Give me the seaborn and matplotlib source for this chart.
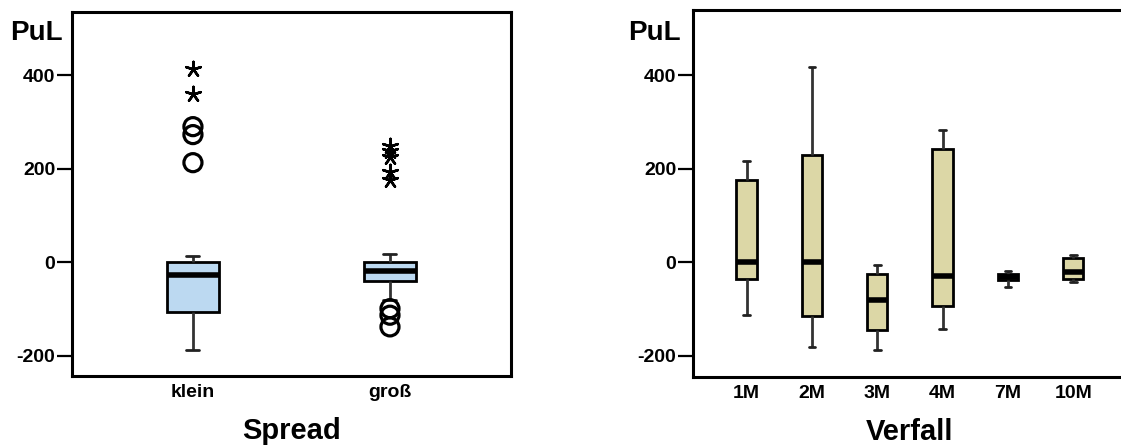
import numpy as np
import pandas as pd
import matplotlib
matplotlib.use("Agg")
import matplotlib.pyplot as plt
import seaborn as sns

# ---------------- data ----------------
spread_cats = ["klein", "groß"]
spread_whislo = [-187, -80]
spread_q1 = [-107, -40]
spread_med = [-27, -18]
spread_q3 = [0, 1]
spread_whishi = [13, 18]
spread_circle_cat = ["klein", "klein", "klein", "groß", "groß", "groß"]
spread_circle_val = [213, 273, 290, -99, -113, -138]
spread_star_cat = ["klein", "klein", "groß", "groß", "groß", "groß", "groß"]
spread_star_val = [360, 414, 248, 238, 226, 194, 177]

verfall_cats = ["1M", "2M", "3M", "4M", "7M", "10M"]
verfall_whislo = [-113, -180, -188, -142, -53, -42]
verfall_q1 = [-35, -115, -145, -94, -38, -35]
verfall_med = [0, 0, -81, -29, -31, -21]
verfall_q3 = [177, 229, -24, 243, -24, 9]
verfall_whishi = [216, 418, -5, 284, -19, 17]

yticks = [-200, 0, 200, 400]
ylabel = "PuL"
xlabel_left = "Spread"
xlabel_right = "Verfall"

# five-number summaries -> long table for seaborn
def five_number_table(cats, lo, q1, med, q3, hi):
    rows = []
    for c, a, b, m, d, e in zip(cats, lo, q1, med, q3, hi):
        for v in (a, b, m, d, e):
            rows.append({"cat": c, "val": v})
    return pd.DataFrame(rows)

df_spread = five_number_table(spread_cats, spread_whislo, spread_q1,
                              spread_med, spread_q3, spread_whishi)
df_verfall = five_number_table(verfall_cats, verfall_whislo, verfall_q1,
                               verfall_med, verfall_q3, verfall_whishi)

# ---------------- style ----------------
sns.set_style("white")
plt.rcParams["font.family"] = ["Liberation Sans", "DejaVu Sans"]
plt.rcParams["font.weight"] = "bold"
plt.rcParams["text.color"] = "black"
plt.rcParams["axes.labelcolor"] = "black"
plt.rcParams["xtick.color"] = "black"
plt.rcParams["ytick.color"] = "black"

blue = "#bcd9f1"
tan = "#dcd7a6"

fig = plt.figure(figsize=(11.21, 4.45), dpi=100)
ax1 = fig.add_axes([0.0642, 0.155, 0.3916, 0.818])
ax2 = fig.add_axes([0.6182, 0.1528, 0.387, 0.8247])


def draw_box(ax, df, order, color, width, capw):
    sns.boxplot(data=df, x="cat", y="val", order=order, whis=(0, 100),
                width=width, color=color, saturation=1, linecolor="black",
                linewidth=2, showfliers=False,
                medianprops=dict(color="black", linewidth=4, solid_capstyle="butt"),
                whiskerprops=dict(color="#333333", linewidth=2),
                capprops=dict(color="#222222", linewidth=2),
                ax=ax)
    for cont in ax.containers:
        for cap in getattr(cont, "caps", []):
            xd = cap.get_xdata()
            c = (xd[0] + xd[1]) / 2
            cap.set_xdata([c - capw / 2, c + capw / 2])


draw_box(ax1, df_spread, spread_cats, blue, 0.26, 0.066)
sns.stripplot(x=spread_circle_cat, y=spread_circle_val, order=spread_cats,
              jitter=False, marker="o", size=13, color="black",
              facecolor="none", edgecolor="black", linewidth=2.3, ax=ax1)
sns.stripplot(x=spread_star_cat, y=spread_star_val, order=spread_cats,
              jitter=False, marker=(5, 2, 0), size=11, color="black",
              linewidth=1.8, ax=ax1)

draw_box(ax2, df_verfall, verfall_cats, tan, 0.31, 0.1)

ax1.set_xlim(-0.614, 1.614)
ax1.set_ylim(-243, 535)
ax2.set_xlim(-0.82, 5.82)
ax2.set_ylim(-245, 540)

for ax, xl, lx, ly in ((ax1, xlabel_left, -0.081, 0.942),
                       (ax2, xlabel_right, -0.0887, 0.937)):
    ax.set_yticks(yticks)
    ax.set_yticklabels([str(t) for t in yticks])
    ax.tick_params(axis="y", direction="out", length=11, width=1.6,
                   labelsize=14, pad=1, colors="black", left=True)
    ax.tick_params(axis="x", length=0, labelsize=14, pad=6, colors="black")
    for lab in ax.get_xticklabels() + ax.get_yticklabels():
        lab.set_fontweight("bold")
    ax.set_xlabel(xl, fontsize=21, fontweight="bold", labelpad=11, color="black")
    ax.set_ylabel(ylabel, fontsize=20, fontweight="bold", rotation=0,
                  ha="center", va="center", color="black")
    ax.yaxis.set_label_coords(lx, ly)
    for s in ax.spines.values():
        s.set_linewidth(2.2)
        s.set_color("black")
        s.set_visible(True)

fig.savefig("out.png", dpi=100)
